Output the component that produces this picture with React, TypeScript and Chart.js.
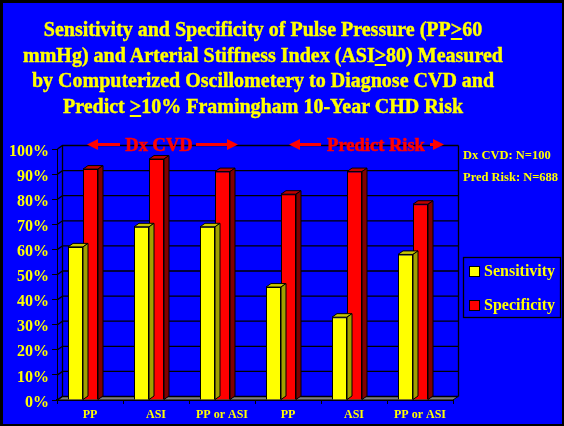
import React, { useEffect, useRef } from 'react';
import { Chart, registerables } from 'chart.js';

Chart.register(...registerables);

// ---------- data ----------
const categories = ['PP', 'ASI', 'PP or ASI', 'PP', 'ASI', 'PP or ASI'];
const sensitivity = [61, 69, 69, 45, 33, 58];
const specificity = [92, 96, 91, 82, 91, 78];
const seriesNames = ['Sensitivity', 'Specificity'];
const groupLabels = ['Dx CVD', 'Predict Risk'];
const sampleNotes = ['Dx CVD: N=100', 'Pred Risk: N=688'];
const yMin = 0;
const yMax = 100;
const yStep = 10;

// ---------- style ----------
const FONT = '"Liberation Serif", "Times New Roman", serif';
const YELLOW = '#FFFF00';
const RED = '#FF0000';
const BLUE = '#0000FF';
const seriesColors = [YELLOW, RED];
const topColors = ['#C8C800', '#C00000'];
const sideColors = ['#A0A000', '#800000'];
const DX = 5;
const DY = 3.5;
const SHIFT = -7;

function drawArrow(ctx: CanvasRenderingContext2D, from: number, to: number, y: number) {
  const dir = Math.sign(to - from);
  ctx.beginPath();
  ctx.moveTo(from, y);
  ctx.lineTo(to - dir * 8, y);
  ctx.stroke();
  ctx.beginPath();
  ctx.moveTo(to, y);
  ctx.lineTo(to - dir * 11, y - 5.5);
  ctx.lineTo(to - dir * 11, y + 5.5);
  ctx.closePath();
  ctx.fill();
}

const threeD = {
  id: 'threeD',
  beforeDatasetsDraw(chart: any) {
    const { ctx, chartArea: a, scales } = chart;
    const y = scales.y;
    ctx.save();
    ctx.lineWidth = 1;
    ctx.strokeStyle = '#000';
    // floor
    ctx.fillStyle = '#808080';
    ctx.beginPath();
    ctx.moveTo(a.left, a.bottom);
    ctx.lineTo(a.left + DX, a.bottom - DY);
    ctx.lineTo(a.right + DX, a.bottom - DY);
    ctx.lineTo(a.right, a.bottom);
    ctx.closePath();
    ctx.fill();
    ctx.stroke();
    // back-wall grid lines with left-wall diagonals
    ctx.lineWidth = 1.3;
    y.ticks.forEach((t: any) => {
      const py = y.getPixelForValue(t.value);
      ctx.beginPath();
      ctx.moveTo(a.left + 0.5, py);
      ctx.lineTo(a.left + DX + 0.5, py - DY);
      ctx.lineTo(a.right + DX + 0.5, py - DY);
      ctx.stroke();
    });
    ctx.beginPath();
    ctx.moveTo(a.left + DX + 0.5, a.top - DY);
    ctx.lineTo(a.left + DX + 0.5, a.bottom - DY);
    ctx.moveTo(a.right + DX + 0.5, a.top - DY);
    ctx.lineTo(a.right + DX + 0.5, a.bottom - DY);
    ctx.stroke();
    ctx.restore();
    ctx.save();
    ctx.translate(SHIFT, 0);
  },
  afterDatasetDraw(chart: any, args: any) {
    const { ctx } = chart;
    const meta = chart.getDatasetMeta(args.index);
    const i = args.index;
    ctx.save();
    ctx.lineWidth = 1;
    ctx.strokeStyle = '#000';
    meta.data.forEach((el: any) => {
      const { x, y, width, base } = el.getProps(['x', 'y', 'width', 'base'], true);
      const x0 = x - width / 2;
      const x1 = x + width / 2;
      ctx.fillStyle = topColors[i];
      ctx.beginPath();
      ctx.moveTo(x0, y);
      ctx.lineTo(x0 + DX, y - DY);
      ctx.lineTo(x1 + DX, y - DY);
      ctx.lineTo(x1, y);
      ctx.closePath();
      ctx.fill();
      ctx.stroke();
      ctx.fillStyle = sideColors[i];
      ctx.beginPath();
      ctx.moveTo(x1, y);
      ctx.lineTo(x1 + DX, y - DY);
      ctx.lineTo(x1 + DX, base - DY);
      ctx.lineTo(x1, base);
      ctx.closePath();
      ctx.fill();
      ctx.stroke();
    });
    ctx.restore();
  },
  afterDatasetsDraw(chart: any) {
    chart.ctx.restore();
  },
  afterDraw(chart: any) {
    const { ctx } = chart;
    ctx.save();
    // legend frame
    ctx.strokeStyle = '#000';
    ctx.lineWidth = 1.3;
    ctx.strokeRect(463.5, 257.5, 97, 60);
    ctx.fillStyle = RED;
    ctx.strokeStyle = RED;
    ctx.font = `bold 18.5px ${FONT}`;
    ctx.textAlign = 'center';
    ctx.textBaseline = 'alphabetic';
    ctx.lineWidth = 0.6;
    ctx.fillText(groupLabels[0], 159, 151);
    ctx.strokeText(groupLabels[0], 159, 151);
    ctx.fillText(groupLabels[1], 376, 151);
    ctx.strokeText(groupLabels[1], 376, 151);
    ctx.lineWidth = 3;
    drawArrow(ctx, 120, 87, 144.5);
    drawArrow(ctx, 196, 238, 144.5);
    drawArrow(ctx, 321, 289, 144.5);
    drawArrow(ctx, 430, 444, 144.5);
    ctx.restore();
  },
};

export default function App() {
  const ref = useRef<HTMLCanvasElement>(null);

  useEffect(() => {
    if (!ref.current) return;
    const chart = new Chart(ref.current, {
      type: 'bar',
      data: {
        labels: categories,
        datasets: [
          {
            label: seriesNames[0],
            data: sensitivity,
            backgroundColor: seriesColors[0],
            borderColor: '#000',
            borderWidth: 1,
            categoryPercentage: 30 / 66,
            barPercentage: 1,
            clip: false as any,
          },
          {
            label: seriesNames[1],
            data: specificity,
            backgroundColor: seriesColors[1],
            borderColor: '#000',
            borderWidth: 1,
            categoryPercentage: 30 / 66,
            barPercentage: 1,
            clip: false as any,
          },
        ],
      },
      options: {
        responsive: false,
        maintainAspectRatio: false,
        animation: false,
        devicePixelRatio: 1,
        layout: { padding: { left: 7, right: 111, top: 149, bottom: 0 } },
        plugins: {
          legend: { display: false },
          tooltip: { enabled: false },
          title: { display: false },
        },
        scales: {
          x: {
            z: 1,
            offset: true,
            grid: {
              display: true,
              offset: true,
              drawOnChartArea: false,
              drawTicks: true,
              tickLength: 4,
              color: '#000',
              lineWidth: 1,
            },
            border: { display: true, color: '#000', width: 2 },
            ticks: {
              color: YELLOW,
              font: { family: FONT, size: 12, weight: 'bold' },
              padding: 4,
              maxRotation: 0,
              autoSkip: false,
            },
            afterFit: (s: any) => {
              s.height = 26;
            },
          },
          y: {
            min: yMin,
            max: yMax,
            grid: {
              display: true,
              drawOnChartArea: false,
              drawTicks: true,
              tickLength: 5,
              color: '#000',
              lineWidth: 1,
            },
            border: { display: true, color: '#000', width: 1 },
            ticks: {
              stepSize: yStep,
              autoSkip: false,
              color: YELLOW,
              padding: 3,
              labelOffset: 2.5,
              font: { family: FONT, size: 16, weight: 'bold' },
              callback: (v: any) => `${v}%`,
            },
            afterFit: (s: any) => {
              s.width = 50;
            },
          },
        },
      },
      plugins: [threeD],
    });
    return () => chart.destroy();
  }, []);

  const u = { textDecoration: 'underline', textDecorationThickness: '2px', textUnderlineOffset: '2px' } as const;

  return (
    <div
      style={{
        position: 'fixed',
        left: 0,
        top: 0,
        width: 564,
        height: 426,
        background: BLUE,
        overflow: 'hidden',
        fontFamily: FONT,
      }}
    >
      <canvas ref={ref} width={564} height={426} style={{ position: 'absolute', left: 0, top: 0, width: 564, height: 426 }} />
      <div
        style={{
          position: 'absolute',
          left: 0,
          top: 17,
          width: 526,
          textAlign: 'center',
          color: YELLOW,
          fontWeight: 'bold',
          fontSize: 20,
          lineHeight: '25.5px',
          whiteSpace: 'nowrap',
          WebkitTextStroke: '0.4px #FFFF00',
        }}
      >
        Sensitivity and Specificity of Pulse Pressure (PP<span style={u}>&gt;</span>60
        <br />
        mmHg) and Arterial Stiffness Index (ASI<span style={u}>&gt;</span>80) Measured
        <br />
        by Computerized Oscillometery to Diagnose CVD and
        <br />
        Predict <span style={u}>&gt;</span>10% Framingham 10-Year CHD Risk
      </div>
      {sampleNotes.map((t, i) => (
        <div
          key={t}
          style={{
            position: 'absolute',
            left: 463,
            top: 148 + i * 22,
            color: YELLOW,
            fontWeight: 'bold',
            fontSize: 12.5,
            lineHeight: '15px',
            whiteSpace: 'nowrap',
          }}
        >
          {t}
        </div>
      ))}
      {seriesNames.map((n, i) => (
        <div
          key={n}
          style={{
            position: 'absolute',
            left: 469,
            top: 261 + i * 34,
            height: 20,
            display: 'flex',
            alignItems: 'center',
            whiteSpace: 'nowrap',
          }}
        >
          <span
            style={{
              display: 'inline-block',
              width: 11,
              height: 11,
              boxSizing: 'border-box',
              border: '1px solid #000',
              background: seriesColors[i],
              marginRight: 4,
            }}
          />
          <span style={{ color: YELLOW, fontWeight: 'bold', fontSize: 16, lineHeight: '20px' }}>{n}</span>
        </div>
      ))}
      <div
        style={{
          position: 'absolute',
          inset: 0,
          borderTop: '3px solid #000',
          borderLeft: '3px solid #000',
          borderRight: '2px solid #000',
          borderBottom: '2px solid #000',
          boxSizing: 'border-box',
          pointerEvents: 'none',
        }}
      />
    </div>
  );
}
